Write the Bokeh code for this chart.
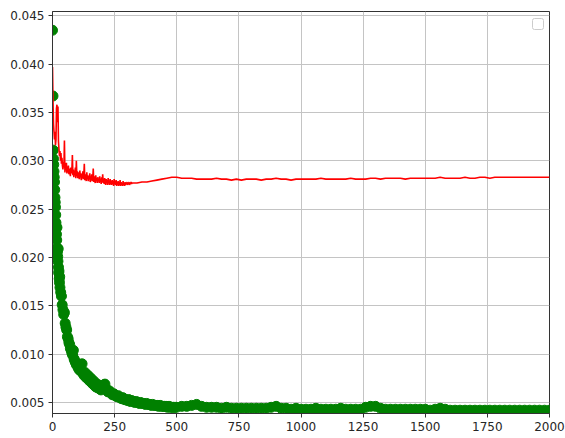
from bokeh.plotting import figure
from bokeh.models import FixedTicker, PrintfTickFormatter, Range1d, BoxAnnotation
from bokeh.embed import file_html
from bokeh.resources import INLINE

# ---------------- data ----------------
x_ticks = [0, 250, 500, 750, 1000, 1250, 1500, 1750, 2000]
y_ticks = [0.005, 0.010, 0.015, 0.020, 0.025, 0.030, 0.035, 0.040, 0.045]

# validation loss (red line)
val_epochs = list(range(0, 41, 2)) + list(range(42, 321, 2)) + list(range(340, 2001, 20))
val_loss = [
    # 0..40 step 2
    0.0397, 0.0362, 0.0338, 0.0330, 0.0322, 0.0330, 0.0316, 0.0322, 0.0354, 0.0358,
    0.0340, 0.0356, 0.0320, 0.0312, 0.0305, 0.0310, 0.0300, 0.0308, 0.0297, 0.0303,
    0.0295,
    # 42..320 step 2
    0.0291, 0.0299, 0.0293, 0.0321, 0.0288, 0.0296, 0.0290, 0.0298, 0.0287, 0.0294,
    0.0288, 0.0295, 0.0286, 0.0292, 0.0289, 0.0284, 0.0293, 0.0287, 0.0290, 0.0306,
    0.0285, 0.0291, 0.0283, 0.0289, 0.0286, 0.0293, 0.0282, 0.0300, 0.0284, 0.0289,
    0.0282, 0.0288, 0.0284, 0.0281, 0.0290, 0.0283, 0.0287, 0.0280, 0.0286, 0.0282,
    0.0289, 0.0281, 0.0285, 0.0297, 0.0280, 0.0286, 0.0282, 0.0279, 0.0288, 0.0281,
    0.0285, 0.0279, 0.0284, 0.0281, 0.0287, 0.0278, 0.0283, 0.0280, 0.0286, 0.0279,
    0.0282, 0.0292, 0.0278, 0.0284, 0.0280, 0.0277, 0.0285, 0.0279, 0.0282, 0.0277,
    0.0283, 0.0279, 0.0281, 0.0277, 0.0284, 0.0278, 0.0280, 0.0276, 0.0283, 0.0278,
    0.0286, 0.0277, 0.0281, 0.0276, 0.0282, 0.0278, 0.0275, 0.0281, 0.0277, 0.0280,
    0.0275, 0.0282, 0.0277, 0.0279, 0.0275, 0.0281, 0.0276, 0.0278, 0.0275, 0.0280,
    0.0276, 0.0279, 0.0274, 0.0281, 0.0276, 0.0278, 0.0275, 0.0280, 0.0274, 0.0278,
    0.0276, 0.0279, 0.0274, 0.0277, 0.0275, 0.0280, 0.0274, 0.0278, 0.0275, 0.0277,
    0.0274, 0.0279, 0.0275, 0.0277, 0.0274, 0.0278, 0.0275, 0.0277, 0.0276, 0.0278,
    0.0275, 0.0277, 0.0276, 0.0278, 0.0275, 0.0277, 0.0276, 0.0278, 0.0276, 0.0277,
    # 340..2000 step 20
    0.0277, 0.0278, 0.0278, 0.0279, 0.0280, 0.0281, 0.0282, 0.0283, 0.0283, 0.0282,
    0.0282, 0.0282, 0.0281, 0.0281, 0.0281, 0.0281, 0.0282, 0.0281, 0.0281, 0.0280,
    0.0281, 0.0280, 0.0281, 0.0281, 0.0281, 0.0280, 0.0281, 0.0281, 0.0282, 0.0281,
    0.0281, 0.0280, 0.0281, 0.0281, 0.0281, 0.0281, 0.0281, 0.0282, 0.0281, 0.0281,
    0.0281, 0.0281, 0.0281, 0.0282, 0.0281, 0.0281, 0.0281, 0.0282, 0.0282, 0.0281,
    0.0282, 0.0282, 0.0282, 0.0282, 0.0281, 0.0282, 0.0282, 0.0282, 0.0282, 0.0282,
    0.0282, 0.0283, 0.0282, 0.0282, 0.0282, 0.0282, 0.0283, 0.0282, 0.0282, 0.0283,
    0.0283, 0.0282, 0.0283, 0.0283, 0.0283, 0.0283, 0.0283, 0.0283, 0.0283, 0.0283,
    0.0283, 0.0283, 0.0283, 0.0283,
]

# training loss (green dots)
train_epochs = ([0] + list(range(2, 31)) + list(range(33, 100, 3)) + list(range(103, 200, 4))
                + list(range(205, 500, 6)) + list(range(520, 2001, 20)))
train_loss = [
    0.0435, 0.0367, 0.0311, 0.0302, 0.0296, 0.0289, 0.0283, 0.0278, 0.0270, 0.0262,
    0.0257, 0.0252, 0.0244, 0.0236, 0.0231, 0.0224, 0.0218, 0.0231, 0.0210, 0.0206,
    0.0201, 0.0196, 0.0209, 0.0190, 0.0184, 0.0186, 0.0178, 0.0174, 0.0180, 0.0169,
    0.0164, 0.0160, 0.0151, 0.0146, 0.0141, 0.0143, 0.0132, 0.0128, 0.0125, 0.0118,
    0.0116, 0.0112, 0.0110, 0.0106, 0.0104, 0.0101, 0.0099, 0.0104, 0.0095, 0.0093,
    0.0091, 0.0089, 0.0090,
    0.0086, 0.0084, 0.0088, 0.0082, 0.0090, 0.0080, 0.0078, 0.0081, 0.0076, 0.0075,
    0.0078, 0.0073, 0.0072, 0.0075, 0.0070, 0.0069, 0.0072, 0.0067, 0.0066, 0.0069,
    0.0065, 0.0068, 0.0064, 0.0063, 0.0066,
    0.0068, 0.0069, 0.0064, 0.0061, 0.0062, 0.0060, 0.0058, 0.0059, 0.0057, 0.0056,
    0.0057, 0.0055, 0.0054, 0.0055, 0.0053, 0.0053, 0.0052, 0.0053, 0.0051, 0.0052,
    0.0051, 0.0050, 0.0051, 0.0050, 0.0049, 0.0050, 0.0049, 0.0049, 0.0048, 0.0049,
    0.0048, 0.0048, 0.0047, 0.0048, 0.0047, 0.0047, 0.0047, 0.0046, 0.0047, 0.0046,
    0.0046, 0.0046, 0.0046, 0.0045, 0.0046, 0.0045, 0.0045, 0.0045, 0.0045, 0.0045,
    0.0046, 0.0046, 0.0047, 0.0048, 0.0046, 0.0045, 0.0045, 0.0045, 0.0044, 0.0045,
    0.0044, 0.0044, 0.0044, 0.0044, 0.0044, 0.0044, 0.0044, 0.0044, 0.0045, 0.0046,
    0.0044, 0.0044, 0.0043, 0.0044, 0.0043, 0.0043, 0.0043, 0.0044, 0.0043, 0.0043,
    0.0043, 0.0043, 0.0044, 0.0043, 0.0043, 0.0043, 0.0043, 0.0045, 0.0046, 0.0046,
    0.0044, 0.0043, 0.0043, 0.0043, 0.0043, 0.0043, 0.0043, 0.0043, 0.0043, 0.0043,
    0.0042, 0.0043, 0.0044, 0.0043, 0.0042, 0.0042, 0.0042, 0.0042, 0.0042, 0.0042,
    0.0042, 0.0042, 0.0042, 0.0042, 0.0042, 0.0042, 0.0042, 0.0042, 0.0042, 0.0042,
    0.0042, 0.0042, 0.0042, 0.0042, 0.0042,
]

n = min(len(val_epochs), len(val_loss))
val_epochs, val_loss = val_epochs[:n], val_loss[:n]
m = min(len(train_epochs), len(train_loss))
train_epochs, train_loss = train_epochs[:m], train_loss[:m]

# ---------------- figure ----------------
p = figure(
    frame_width=497, frame_height=402,
    min_border_left=52, min_border_right=16, min_border_top=11, min_border_bottom=25,
    x_range=Range1d(0, 2000), y_range=Range1d(0.00386, 0.04544),
    output_backend="svg", toolbar_location=None,
    background_fill_color="white", border_fill_color="white",
)

p.scatter(train_epochs, train_loss, size=10, color="#008000", line_color="#008000")
p.line(val_epochs, val_loss, line_color="#ff0000", line_width=1.6)

for ax in (p.xaxis, p.yaxis):
    ax.axis_line_color = "#333333"
    ax.axis_line_width = 1
    ax.major_tick_line_color = "#333333"
    ax.major_tick_in = 0
    ax.major_tick_out = 4
    ax.minor_tick_line_color = None
    ax.major_label_text_font = "DejaVu Sans"
    ax.major_label_text_font_size = "12px"
    ax.major_label_text_color = "#262626"
    ax.major_label_standoff = 4

p.xaxis.ticker = FixedTicker(ticks=x_ticks)
p.yaxis.ticker = FixedTicker(ticks=y_ticks)
p.yaxis.formatter = PrintfTickFormatter(format="%.3f")
p.xaxis.formatter = PrintfTickFormatter(format="%d")

p.grid.grid_line_color = "#c4c4c4"
p.grid.grid_line_width = 1
p.xgrid.ticker = FixedTicker(ticks=x_ticks)
p.ygrid.ticker = FixedTicker(ticks=y_ticks)

p.outline_line_color = "#333333"
p.outline_line_width = 1
p.outline_line_alpha = 1

# empty legend box (top right)
legend_box = BoxAnnotation(
    left=532, right=543, top=18, bottom=29,
    left_units="canvas", right_units="canvas", top_units="canvas", bottom_units="canvas",
    fill_color="white", fill_alpha=1, line_color="#cccccc", line_width=1, line_alpha=1,
    border_radius=2,
)
p.add_layout(legend_box)

open("out.html", "w").write(file_html(p, INLINE))
